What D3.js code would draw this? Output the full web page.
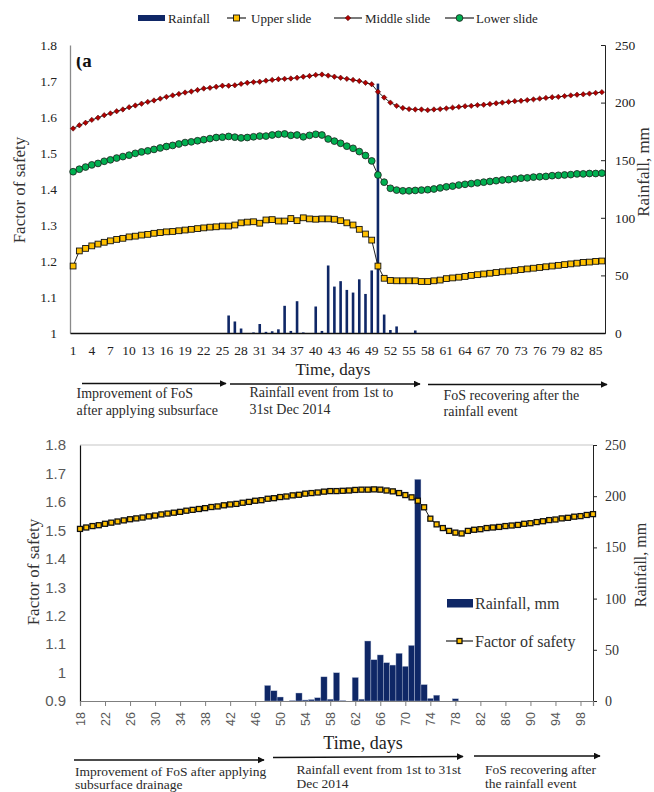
<!DOCTYPE html>
<html>
<head>
<meta charset="utf-8">
<script src="https://cdn.jsdelivr.net/npm/d3@7"></script>
<style>
  body { margin: 0; background: #fff; }
  svg { display: block; }
</style>
</head>
<body>
<script>
// ---- data ----
// panel (a): days 1..86
const topDays = d3.range(1, 87);
const upperSlide = [1.186,1.228,1.235,1.242,1.247,1.252,1.256,1.260,1.263,1.267,
  1.269,1.272,1.274,1.277,1.279,1.281,1.282,1.284,1.286,1.288,
  1.290,1.292,1.294,1.295,1.297,1.297,1.300,1.306,1.308,1.309,
  1.305,1.314,1.315,1.311,1.311,1.318,1.312,1.320,1.317,1.316,
  1.317,1.317,1.316,1.312,1.306,1.300,1.288,1.275,1.258,1.186,
  1.152,1.146,1.145,1.145,1.145,1.145,1.143,1.143,1.145,1.147,
  1.151,1.153,1.155,1.157,1.160,1.162,1.164,1.166,1.168,1.170,
  1.172,1.174,1.176,1.178,1.180,1.182,1.184,1.186,1.188,1.190,
  1.192,1.194,1.196,1.197,1.199,1.200];
const middleSlide = [1.568,1.577,1.584,1.592,1.598,1.605,1.610,1.616,1.621,1.627,
  1.632,1.637,1.642,1.646,1.651,1.656,1.660,1.664,1.668,1.671,
  1.675,1.679,1.681,1.684,1.687,1.687,1.688,1.692,1.695,1.697,
  1.698,1.701,1.703,1.705,1.706,1.707,1.709,1.712,1.714,1.717,
  1.718,1.715,1.712,1.709,1.706,1.703,1.700,1.695,1.691,1.670,
  1.654,1.640,1.631,1.625,1.622,1.621,1.621,1.619,1.621,1.622,
  1.624,1.626,1.628,1.630,1.631,1.633,1.634,1.636,1.638,1.640,
  1.642,1.644,1.645,1.647,1.649,1.651,1.653,1.655,1.656,1.658,
  1.660,1.662,1.663,1.665,1.667,1.669];
const lowerSlide = [1.448,1.455,1.461,1.467,1.471,1.477,1.481,1.486,1.490,1.494,
  1.499,1.503,1.506,1.510,1.514,1.518,1.521,1.525,1.529,1.531,
  1.534,1.537,1.540,1.543,1.544,1.546,1.544,1.542,1.543,1.545,
  1.547,1.547,1.550,1.552,1.553,1.549,1.550,1.545,1.549,1.552,
  1.550,1.539,1.533,1.527,1.519,1.513,1.504,1.493,1.478,1.439,
  1.419,1.402,1.397,1.395,1.395,1.396,1.397,1.398,1.400,1.403,
  1.406,1.408,1.411,1.413,1.415,1.417,1.419,1.421,1.423,1.425,
  1.426,1.428,1.430,1.431,1.433,1.434,1.435,1.437,1.438,1.439,
  1.440,1.442,1.442,1.443,1.443,1.444];

// daily rainfall 1st..31st Dec 2014 (mm)
const decRainfall = [15.2,10,3.9,0,0.5,7.8,1,1.5,3.2,23.6,1.8,27.6,0.5,0,23,1.8,
  58.6,40.3,45,37.4,35.1,46.6,33.9,54.3,216.5,16,2.6,5.7,0,0,2.2];
const rainStartTop = 26;      // day of 1st Dec in panel (a)
const rainStartBottom = 48;   // day of 1st Dec in lower panel

// lower panel: days 18..100
const botDays = d3.range(18, 101);
const botFoS = [1.505,1.510,1.515,1.518,1.523,1.527,1.531,1.535,1.539,1.542,
  1.545,1.549,1.552,1.556,1.559,1.562,1.565,1.569,1.572,1.575,
  1.578,1.582,1.584,1.588,1.591,1.593,1.597,1.600,1.604,1.606,
  1.611,1.613,1.617,1.619,1.623,1.625,1.629,1.631,1.633,1.636,
  1.638,
  1.638,1.639,1.640,1.642,1.643,1.643,1.644,1.643,1.640,1.637,
  1.631,1.624,1.616,1.604,1.581,1.541,1.521,1.508,1.498,1.492,
  1.489,1.498,1.502,1.504,1.508,1.510,1.512,1.515,1.517,1.519,
  1.523,1.525,1.529,1.532,1.536,1.538,1.542,1.544,1.548,1.550,
  1.554,1.557];

const fosTicksTop = [1, 1.1, 1.2, 1.3, 1.4, 1.5, 1.6, 1.7, 1.8];
const fosTicksBot = [0.9, 1, 1.1, 1.2, 1.3, 1.4, 1.5, 1.6, 1.7, 1.8];
const rainTicks = [0, 50, 100, 150, 200, 250];

// ---- styles ----
const SERIF = '"Liberation Serif", "Times New Roman", serif';
const SANS = '"Liberation Sans", Arial, sans-serif';
const NAVY = '#0f2766';
const YELLOW = '#ffc000';
const RED = '#b00000';
const GREEN = '#00b050';
const fmtFos = d => String(+d.toFixed(1));

const svg = d3.select('body').append('svg')
  .attr('width', 654)
  .attr('height', 792);

svg.append('defs').append('marker')
  .attr('id', 'arrow')
  .attr('viewBox', '0 0 10 10')
  .attr('refX', 9).attr('refY', 5)
  .attr('markerWidth', 7).attr('markerHeight', 7)
  .attr('markerUnits', 'userSpaceOnUse')
  .attr('orient', 'auto')
  .append('path')
  .attr('d', 'M0,0 L10,5 L0,10 Z')
  .attr('fill', '#111');

svg.select('defs').append('clipPath')
  .attr('id', 'clipA')
  .append('rect')
  .attr('x', 70).attr('y', 57).attr('width', 60).attr('height', 30);

// =====================  PANEL (a)  =====================
const T = { left: 70, right: 605, top: 45, bottom: 333 };
const xTop = d3.scaleBand().domain(topDays).range([T.left, T.right]);
const bw = xTop.bandwidth();
const yTop = d3.scaleLinear().domain([1, 1.8]).range([T.bottom, T.top]);
const yTopR = d3.scaleLinear().domain([0, 250]).range([T.bottom, T.top]);
const gTop = svg.append('g');

// left axis
const axL = gTop.append('g')
  .attr('transform', `translate(${T.left},0)`)
  .call(d3.axisLeft(yTop).tickValues(fosTicksTop).tickFormat(fmtFos).tickSize(0).tickPadding(13));
axL.select('.domain').attr('stroke', '#8a8a8a').attr('stroke-width', 1.3);
axL.selectAll('text').style('font-family', SERIF).style('font-size', '13.5px').attr('fill', '#222');

// right axis
const axR = gTop.append('g')
  .attr('transform', `translate(${T.right},0)`)
  .call(d3.axisRight(yTopR).tickValues(rainTicks).tickSize(-4).tickPadding(10));
axR.select('.domain').attr('stroke', '#222');
axR.selectAll('line').attr('stroke', '#222');
axR.selectAll('text').style('font-family', SERIF).style('font-size', '13.5px').attr('fill', '#222');

// bottom axis
const axB = gTop.append('g')
  .attr('transform', `translate(0,${T.bottom})`)
  .call(d3.axisBottom(xTop).tickValues(topDays.filter(d => (d - 1) % 3 === 0)).tickSize(0).tickPadding(12));
axB.select('.domain').attr('stroke', '#111').attr('stroke-width', 1.3);
axB.selectAll('text').style('font-family', SERIF).style('font-size', '13.5px').attr('fill', '#222');

// rainfall bars (thin)
gTop.append('g').selectAll('rect')
  .data(decRainfall.map((v, i) => ({ day: rainStartTop + i, v })))
  .join('rect')
  .attr('x', d => xTop(d.day) + bw / 2 - 1.3)
  .attr('width', 2.6)
  .attr('y', d => yTopR(d.v))
  .attr('height', d => T.bottom - yTopR(d.v))
  .attr('fill', NAVY);

const cx = d => xTop(d.day) + bw / 2;
const topSeries = [
  { key: 'upper', values: upperSlide },
  { key: 'middle', values: middleSlide },
  { key: 'lower', values: lowerSlide }
];
const lineTop = d3.line().x(cx).y(d => yTop(d.v));

topSeries.forEach(s => {
  const pts = s.values.map((v, i) => ({ day: topDays[i], v }));
  gTop.append('path')
    .datum(pts)
    .attr('d', lineTop)
    .attr('fill', 'none')
    .attr('stroke', '#222')
    .attr('stroke-width', 1);
  const g = gTop.append('g');
  if (s.key === 'upper') {
    g.selectAll('rect').data(pts).join('rect')
      .attr('x', d => cx(d) - 2.9).attr('y', d => yTop(d.v) - 2.9)
      .attr('width', 5.8).attr('height', 5.8)
      .attr('fill', YELLOW).attr('stroke', '#111').attr('stroke-width', 0.9);
  } else if (s.key === 'middle') {
    g.selectAll('path').data(pts).join('path')
      .attr('d', 'M0,-2.7 L2.7,0 L0,2.7 L-2.7,0 Z')
      .attr('transform', d => `translate(${cx(d)},${yTop(d.v)})`)
      .attr('fill', RED).attr('stroke', '#3a0000').attr('stroke-width', 0.5);
  } else {
    g.selectAll('circle').data(pts).join('circle')
      .attr('cx', cx).attr('cy', d => yTop(d.v)).attr('r', 3.4)
      .attr('fill', GREEN).attr('stroke', '#1d1d1d').attr('stroke-width', 0.8);
  }
});

// "(a" panel tag, top clipped as in the source
svg.append('text')
  .attr('x', 76).attr('y', 67)
  .attr('clip-path', 'url(#clipA)')
  .style('font-family', SERIF).style('font-size', '19px').style('font-weight', 'bold')
  .attr('fill', '#111')
  .text('(a');

// axis titles
svg.append('text')
  .attr('transform', 'translate(19,190) rotate(-90)')
  .attr('text-anchor', 'middle').attr('dy', '0.35em')
  .style('font-family', SERIF).style('font-size', '17px').attr('fill', '#333')
  .text('Factor of safety');
svg.append('text')
  .attr('transform', 'translate(643,172) rotate(-90)')
  .attr('text-anchor', 'middle').attr('dy', '0.35em')
  .style('font-family', SERIF).style('font-size', '17px').attr('fill', '#333')
  .text('Rainfall, mm');
svg.append('text')
  .attr('x', 333).attr('y', 375)
  .attr('text-anchor', 'middle')
  .style('font-family', SERIF).style('font-size', '17px').attr('fill', '#222')
  .text('Time, days');

// legend (top)
const lg = svg.append('g').style('font-family', SERIF).style('font-size', '13px');
lg.append('rect').attr('x', 138).attr('y', 15).attr('width', 27).attr('height', 6).attr('fill', NAVY);
lg.append('text').attr('x', 168).attr('y', 22.5).attr('fill', '#222').text('Rainfall');
[
  { x1: 227, x2: 246, tx: 251, label: 'Upper slide', key: 'upper' },
  { x1: 334, x2: 362, tx: 365, label: 'Middle slide', key: 'middle' },
  { x1: 445, x2: 474, tx: 476, label: 'Lower slide', key: 'lower' }
].forEach(l => {
  const m = (l.x1 + l.x2) / 2;
  lg.append('line').attr('x1', l.x1).attr('x2', l.x2).attr('y1', 18).attr('y2', 18)
    .attr('stroke', '#222').attr('stroke-width', 1.2);
  if (l.key === 'upper') {
    lg.append('rect').attr('x', m - 3).attr('y', 15).attr('width', 6).attr('height', 6)
      .attr('fill', YELLOW).attr('stroke', '#111').attr('stroke-width', 0.9);
  } else if (l.key === 'middle') {
    lg.append('path').attr('d', 'M0,-2.8 L2.8,0 L0,2.8 L-2.8,0 Z')
      .attr('transform', `translate(${m},18)`).attr('fill', RED).attr('stroke', '#3a0000').attr('stroke-width', 0.5);
  } else {
    lg.append('circle').attr('cx', m).attr('cy', 18).attr('r', 3.4)
      .attr('fill', GREEN).attr('stroke', '#1d1d1d').attr('stroke-width', 0.8);
  }
  lg.append('text').attr('x', l.tx).attr('y', 22.5).attr('fill', '#222').text(l.label);
});

// =====================  LOWER PANEL  =====================
const B = { left: 80, right: 593, top: 445, bottom: 701 };
const xBot = d3.scalePoint().domain(botDays).range([B.left, B.right]);
const step = xBot.step();
const yBot = d3.scaleLinear().domain([0.9, 1.8]).range([B.bottom, B.top]);
const yBotR = d3.scaleLinear().domain([0, 250]).range([B.bottom, B.top]);
const gBot = svg.append('g');

// top border
gBot.append('line')
  .attr('x1', B.left).attr('x2', B.right).attr('y1', B.top).attr('y2', B.top)
  .attr('stroke', '#d9d9d9').attr('stroke-width', 1.3);

// rainfall bars (wide)
gBot.append('g').selectAll('rect')
  .data(decRainfall.map((v, i) => ({ day: rainStartBottom + i, v })))
  .join('rect')
  .attr('x', d => xBot(d.day) - step / 2)
  .attr('width', step)
  .attr('y', d => yBotR(d.v))
  .attr('height', d => B.bottom - yBotR(d.v))
  .attr('fill', NAVY)
  .attr('stroke', '#b9c3d9')
  .attr('stroke-width', 0.4);

const bl = gBot.append('g')
  .attr('transform', `translate(${B.left},0)`)
  .call(d3.axisLeft(yBot).tickValues(fosTicksBot).tickFormat(fmtFos).tickSize(0).tickPadding(14));
bl.select('.domain').attr('stroke', '#111').attr('stroke-width', 1.2);
bl.selectAll('text').style('font-family', SANS).style('font-size', '15px').attr('fill', '#595959');

const br = gBot.append('g')
  .attr('transform', `translate(${B.right},0)`)
  .call(d3.axisRight(yBotR).tickValues(rainTicks).tickSize(4).tickPadding(8));
br.select('.domain').attr('stroke', '#222');
br.selectAll('line').attr('stroke', '#222');
br.selectAll('text').style('font-family', SERIF).style('font-size', '14px').attr('fill', '#333');

const bb = gBot.append('g')
  .attr('transform', `translate(0,${B.bottom})`)
  .call(d3.axisBottom(xBot).tickValues(botDays.filter(d => (d - 18) % 4 === 0)).tickSize(5));
bb.select('.domain').attr('stroke', '#7f7f7f').attr('stroke-width', 1.2);
bb.selectAll('line').attr('stroke', '#7f7f7f');
bb.selectAll('text')
  .attr('y', 0).attr('x', -11).attr('dy', '0.35em')
  .attr('transform', 'rotate(-90)')
  .style('text-anchor', 'end')
  .style('font-family', SANS).style('font-size', '12.5px').attr('fill', '#595959');

// FoS line
const botPts = botFoS.map((v, i) => ({ day: botDays[i], v }));
gBot.append('path')
  .datum(botPts)
  .attr('d', d3.line().x(d => xBot(d.day)).y(d => yBot(d.v)))
  .attr('fill', 'none').attr('stroke', '#222').attr('stroke-width', 1);
gBot.append('g').selectAll('rect').data(botPts).join('rect')
  .attr('x', d => xBot(d.day) - 2.5).attr('y', d => yBot(d.v) - 2.5)
  .attr('width', 5).attr('height', 5)
  .attr('fill', YELLOW).attr('stroke', '#111').attr('stroke-width', 1.3);

// legend (inside)
gBot.append('rect').attr('x', 447).attr('y', 599).attr('width', 26).attr('height', 8.5).attr('fill', NAVY);
gBot.append('text').attr('x', 475).attr('y', 608.5)
  .style('font-family', SERIF).style('font-size', '16px').attr('fill', '#333').text('Rainfall, mm');
gBot.append('line').attr('x1', 446).attr('x2', 473).attr('y1', 641).attr('y2', 641)
  .attr('stroke', '#222').attr('stroke-width', 1.2);
gBot.append('rect').attr('x', 457).attr('y', 638.5).attr('width', 5).attr('height', 5)
  .attr('fill', YELLOW).attr('stroke', '#111').attr('stroke-width', 1.3);
gBot.append('text').attr('x', 475).attr('y', 646.5)
  .style('font-family', SERIF).style('font-size', '16px').attr('fill', '#333').text('Factor of safety');

// titles
svg.append('text')
  .attr('transform', 'translate(33,572) rotate(-90)')
  .attr('text-anchor', 'middle').attr('dy', '0.35em')
  .style('font-family', SERIF).style('font-size', '17px').attr('fill', '#333')
  .text('Factor of safety');
svg.append('text')
  .attr('transform', 'translate(640,565) rotate(-90)')
  .attr('text-anchor', 'middle').attr('dy', '0.35em')
  .style('font-family', SERIF).style('font-size', '16px').attr('fill', '#333')
  .text('Rainfall, mm');
svg.append('text')
  .attr('x', 363).attr('y', 749)
  .attr('text-anchor', 'middle')
  .style('font-family', SERIF).style('font-size', '18px').attr('fill', '#222')
  .text('Time, days');

// ---- phase arrows & notes ----
const arrows = [
  [82, 383.5, 226, 383.5], [230, 384, 420, 384], [428, 384.5, 607, 384.5],
  [74, 760, 264, 760], [273, 757.5, 463, 756.5], [474, 756, 600, 756]
];
svg.append('g').selectAll('line').data(arrows).join('line')
  .attr('x1', d => d[0]).attr('y1', d => d[1])
  .attr('x2', d => d[2]).attr('y2', d => d[3])
  .attr('stroke', '#111').attr('stroke-width', 1.3)
  .attr('marker-end', 'url(#arrow)');

const notes = [
  { x: 76.5, y: 398, size: 14, gap: 16.5, lines: ['Improvement of FoS', 'after applying subsurface'] },
  { x: 249.5, y: 397, size: 14, gap: 16.5, lines: ['Rainfall event from 1st to', '31st Dec 2014'] },
  { x: 443.5, y: 399.5, size: 14, gap: 16.5, lines: ['FoS recovering after the', 'rainfall event'] },
  { x: 75, y: 775.5, size: 13.5, gap: 13.5, lines: ['Improvement of FoS after applying', 'subsurface drainage'] },
  { x: 296.5, y: 773.5, size: 13.5, gap: 14, lines: ['Rainfall event from 1st to 31st', 'Dec 2014'] },
  { x: 485, y: 773.5, size: 13.5, gap: 14, lines: ['FoS recovering after', 'the rainfall event'] }
];
notes.forEach(n => {
  const t = svg.append('text')
    .attr('x', n.x).attr('y', n.y)
    .style('font-family', SERIF).style('font-size', n.size + 'px')
    .attr('fill', '#2a2a2a');
  n.lines.forEach((ln, i) => {
    t.append('tspan').attr('x', n.x).attr('dy', i === 0 ? 0 : n.gap).text(ln);
  });
});
</script>
</body>
</html>
